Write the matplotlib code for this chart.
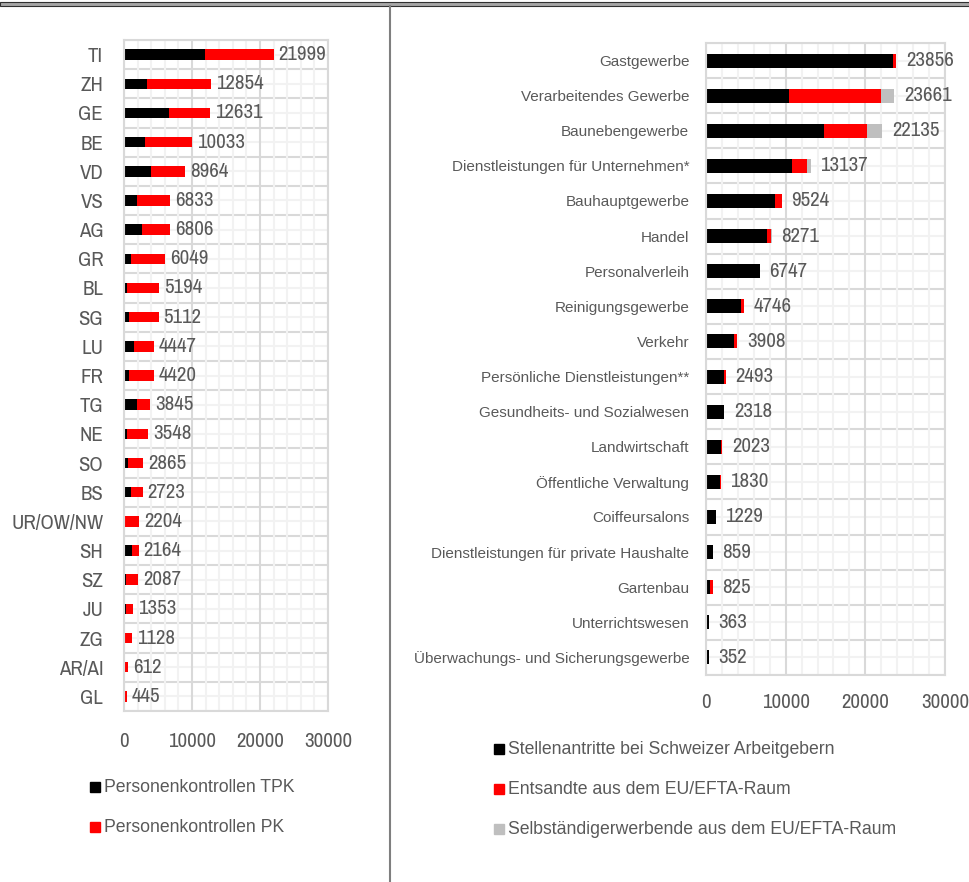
import matplotlib
matplotlib.use("Agg")
import matplotlib.pyplot as plt
from matplotlib.patches import Rectangle
from matplotlib.lines import Line2D
import numpy as np

#%%
# Data - left panel (Kantone)
cantons = ["TI", "ZH", "GE", "BE", "VD", "VS", "AG", "GR", "BL", "SG", "LU", "FR",
           "TG", "NE", "SO", "BS", "UR/OW/NW", "SH", "SZ", "JU", "ZG", "AR/AI", "GL"]
canton_totals = [21999, 12854, 12631, 10033, 8964, 6833, 6806, 6049, 5194, 5112, 4447,
                 4420, 3845, 3548, 2865, 2723, 2204, 2164, 2087, 1353, 1128, 612, 445]
tpk = [11900, 3320, 6600, 3020, 4020, 1980, 2580, 1090, 450, 790, 1440, 740,
       1840, 500, 640, 1040, 150, 1150, 350, 350, 30, 0, 0]
pk = [10099, 9534, 6031, 7013, 4944, 4853, 4226, 4959, 4744, 4322, 3007, 3680,
      2005, 3048, 2225, 1683, 2054, 1014, 1737, 1003, 1098, 612, 445]

# Data - right panel (Branchen)
branches = ["Gastgewerbe", "Verarbeitendes Gewerbe", "Baunebengewerbe",
            "Dienstleistungen für Unternehmen*", "Bauhauptgewerbe", "Handel",
            "Personalverleih", "Reinigungsgewerbe", "Verkehr",
            "Persönliche Dienstleistungen**", "Gesundheits- und Sozialwesen",
            "Landwirtschaft", "Öffentliche Verwaltung", "Coiffeursalons",
            "Dienstleistungen für private Haushalte", "Gartenbau",
            "Unterrichtswesen", "Überwachungs- und Sicherungsgewerbe"]
branch_totals = [23856, 23661, 22135, 13137, 9524, 8271, 6747, 4746, 3908, 2493,
                 2318, 2023, 1830, 1229, 859, 825, 363, 352]
stellenantritte = [23490, 10390, 14800, 10770, 8600, 7650, 6747, 4430, 3560, 2200,
                   2250, 1940, 1700, 1200, 859, 500, 363, 352]
entsandte = [366, 11530, 5470, 1865, 900, 560, 0, 300, 340, 270,
             68, 83, 130, 29, 0, 325, 0, 0]
selbstaendige = [0, 1741, 1865, 502, 24, 61, 0, 16, 8, 23,
                 0, 0, 0, 0, 0, 0, 0, 0]

#%%
plt.rcParams['font.family'] = ['Liberation Sans', 'DejaVu Sans']
narrow = ['Archivo Narrow', 'Roboto Condensed', 'Liberation Sans', 'DejaVu Sans']
txt_col = "#595959"
W, H = 970, 882


def fig_rect(left, top, right, bottom):
    """pixel box -> figure fraction [l, b, w, h]"""
    return [left/W, 1-bottom/H, (right-left)/W, (bottom-top)/H]


def setup_axis(ax, labels, lab_size, lab_family, ypad, xpad):
    n = len(labels)
    ax.set_xlim(0, 30000)
    ax.set_ylim(n-0.5, -0.5)
    ax.set_xticks([0, 10000, 20000, 30000])
    ax.set_xticks(np.arange(0, 30001, 2000), minor=True)
    ax.set_yticks(range(n))
    ax.set_yticklabels(labels, fontsize=lab_size, color=txt_col, family=lab_family)
    for t in ax.get_xticklabels():
        t.set_family(narrow)
    ax.tick_params(axis="y", length=0, pad=ypad)
    ax.tick_params(axis="x", which="both", length=0, pad=xpad,
                   labelsize=15, labelcolor=txt_col)
    ax.grid(True, axis="x", which="major", color="#d9d9d9", lw=1.5)
    ax.grid(True, axis="x", which="minor", color="#f2f2f2", lw=1.5)
    # horizontal grid: major between categories, minor through centres
    for k in range(n):
        ax.axhline(k, color="#f2f2f2", lw=1.5, zorder=0)
    for k in range(n+1):
        ax.axhline(k-0.5, color="#d9d9d9", lw=1.5, zorder=0)
    ax.set_axisbelow(True)
    for s in ax.spines.values():
        s.set_color("#d9d9d9")
        s.set_linewidth(1.5)


def legend_key(x, y, color, text):
    """square + label, pixel coords of the square's centre"""
    fig.add_artist(Rectangle(((x-5)/W, 1-(y+5)/H), 10/W, 10/H, color=color,
                             transform=fig.transFigure))
    fig.text((x+9)/W, 1-y/H, text, fontsize=12.7, color=txt_col, va="center")


fig = plt.figure(figsize=(W/100, H/100), dpi=100)

# left panel
ax1 = fig.add_axes(fig_rect(124, 40, 328, 711))
y1 = np.arange(len(cantons))
ax1.barh(y1, tpk, height=0.36, color="black")
ax1.barh(y1, pk, left=tpk, height=0.36, color="#ff0000")
setup_axis(ax1, cantons, 15, narrow, 15, 15)
for i, v in enumerate(canton_totals):
    ax1.annotate(str(v), xy=(v, i), xytext=(3.5, 0), textcoords="offset points",
                 va="center", fontsize=15, color=txt_col, family=narrow)

# right panel
ax2 = fig.add_axes(fig_rect(706, 43, 945, 675))
y2 = np.arange(len(branches))
left2 = np.array(stellenantritte) + np.array(entsandte)
ax2.barh(y2, stellenantritte, height=0.4, color="black")
ax2.barh(y2, entsandte, left=stellenantritte, height=0.4, color="#ff0000")
ax2.barh(y2, selbstaendige, left=left2, height=0.4, color="#bfbfbf")
setup_axis(ax2, branches, 11, ['Liberation Sans', 'DejaVu Sans'], 12, 13)
for i, v in enumerate(branch_totals):
    ax2.annotate(str(v), xy=(v, i), xytext=(7, 0), textcoords="offset points",
                 va="center", fontsize=15, color=txt_col, family=narrow)

# legends
legend_key(95, 787, "black", "Personenkontrollen TPK")
legend_key(95, 827, "#ff0000", "Personenkontrollen PK")
legend_key(499, 749, "black", "Stellenantritte bei Schweizer Arbeitgebern")
legend_key(499, 789, "#ff0000", "Entsandte aus dem EU/EFTA-Raum")
legend_key(499, 829, "#bfbfbf", "Selbständigerwerbende aus dem EU/EFTA-Raum")

# table borders: double line on top, divider in the middle
fig.add_artist(Rectangle((0, 1-5.5/H), 1, 4/H, facecolor="#a6a6a6",
                         edgecolor="#303030", lw=0.8, transform=fig.transFigure))
fig.add_artist(Line2D([390/W, 390/W], [0, 1-5.5/H], color="#7f7f7f", lw=1.5,
                      transform=fig.transFigure))

fig.savefig("out.png", dpi=100)
